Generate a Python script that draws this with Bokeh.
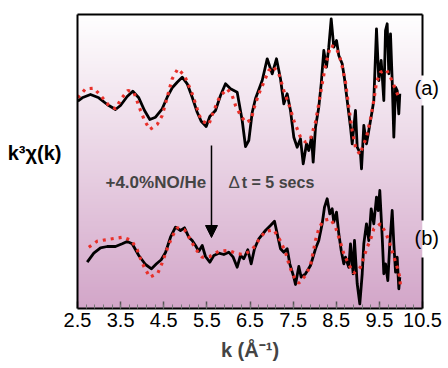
import numpy as np
from bokeh.plotting import figure
from bokeh.models import Range1d, LinearAxis, FixedTicker, Label, Arrow, NormalHead
from bokeh.embed import file_html
from bokeh.resources import INLINE

# ---- data, k in 1/Angstrom, k^3 chi(k) in arbitrary offset units ----
k_a_exp = [2.507, 2.609, 2.801, 2.994, 3.189, 3.381, 3.497, 3.652, 3.782, 3.921, 4.054, 4.177, 4.309, 4.464,
           4.580, 4.696, 4.812, 4.928, 5.044, 5.160, 5.276, 5.368, 5.484, 5.568, 5.700, 5.816, 5.932, 6.048,
           6.203, 6.319, 6.396, 6.472, 6.551, 6.628, 6.697, 6.783, 6.899, 7.015, 7.114, 7.207, 7.284, 7.362,
           7.439, 7.516, 7.594, 7.671, 7.734, 7.810, 7.863, 7.926, 7.965, 8.019, 8.095, 8.151, 8.211, 8.274,
           8.327, 8.383, 8.443, 8.506, 8.559, 8.638, 8.691, 8.754, 8.830, 8.870, 8.946, 8.986, 9.062, 9.086,
           9.139, 9.201, 9.255, 9.334, 9.371, 9.433, 9.487, 9.542, 9.603, 9.642, 9.681, 9.719, 9.758, 9.797,
           9.835, 9.875, 9.913, 9.951, 9.974]
chi_a_exp = [20.73, 21.07, 21.4, 21.07, 20.4, 19.9, 20.3, 21.2, 21.73, 21.07, 19.8, 18.9, 19.13, 19.97,
             21.13, 22.07, 22.63, 23.13, 22.47, 21.13, 19.63, 18.73, 18.2, 19.2, 19.8, 21.3, 22.47, 21.97,
             21.63, 18.8, 16.2, 16.8, 19.6, 21.0, 21.8, 22.8, 24.97, 23.47, 24.97, 22.97, 20.47, 21.47,
             19.8, 17.13, 16.13, 16.97, 14.47, 16.47, 15.8, 17.13, 14.63, 18.13, 20.13, 22.47, 25.8, 24.13,
             26.13, 28.97, 26.13, 26.8, 25.3, 24.47, 23.0, 20.8, 18.13, 16.47, 19.8, 16.13, 15.47, 13.97,
             18.3, 16.47, 17.8, 19.8, 20.8, 27.97, 22.8, 24.8, 20.8, 27.8, 28.47, 23.47, 27.47, 22.8,
             17.13, 22.13, 21.8, 19.47, 21.47]

k_a_fit = [2.507, 2.686, 2.878, 3.057, 3.226, 3.381, 3.513, 3.666, 3.806, 3.961, 4.054, 4.177, 4.348, 4.464,
           4.580, 4.696, 4.826, 4.981, 5.160, 5.276, 5.368, 5.545, 5.661, 5.800, 5.971, 6.087, 6.164, 6.263,
           6.396, 6.528, 6.588, 6.704, 6.820, 6.936, 7.038, 7.168, 7.284, 7.423, 7.516, 7.594, 7.671, 7.787,
           7.903, 8.019, 8.095, 8.174, 8.250, 8.367, 8.483, 8.559, 8.638, 8.714, 8.791, 8.870, 8.946, 9.046,
           9.125, 9.201, 9.294, 9.371, 9.433, 9.526, 9.665, 9.758, 9.835, 9.951]
chi_a_fit = [21.07, 21.97, 22.03, 21.2, 20.3, 19.97, 20.97, 21.8, 21.63, 19.8, 18.8, 17.9, 18.4, 19.3,
             21.13, 22.97, 23.97, 23.3, 21.47, 19.97, 18.8, 18.4, 19.8, 21.2, 21.97, 21.3, 20.3, 19.47,
             18.6, 18.87, 19.97, 21.47, 22.63, 23.8, 24.2, 23.47, 21.8, 20.13, 18.8, 17.97, 17.13, 16.63,
             16.97, 18.63, 20.47, 22.47, 24.3, 26.3, 26.13, 25.47, 24.2, 22.63, 20.13, 17.8, 16.13, 15.4,
             16.3, 17.13, 18.97, 20.8, 22.63, 23.63, 23.87, 23.13, 22.3, 21.13]

k_b_exp = [2.725, 2.878, 3.033, 3.189, 3.381, 3.537, 3.652, 3.768, 3.921, 4.077, 4.216, 4.332, 4.441, 4.541,
           4.657, 4.772, 4.888, 4.981, 5.081, 5.160, 5.236, 5.313, 5.392, 5.468, 5.568, 5.661, 5.777, 5.893,
           6.008, 6.110, 6.203, 6.280, 6.356, 6.449, 6.528, 6.604, 6.704, 6.859, 6.975, 7.068, 7.131, 7.207,
           7.284, 7.362, 7.423, 7.516, 7.555, 7.632, 7.687, 7.787, 7.903, 8.019, 8.095, 8.174, 8.227, 8.290,
           8.350, 8.406, 8.443, 8.506, 8.559, 8.615, 8.675, 8.714, 8.791, 8.830, 8.893, 8.923, 8.986, 9.046,
           9.102, 9.139, 9.201, 9.255, 9.310, 9.371, 9.433, 9.473, 9.510, 9.566, 9.603, 9.642, 9.696, 9.742,
           9.797, 9.835, 9.875, 9.913, 9.951, 9.974]
chi_b_exp = [4.63, 5.53, 6.07, 6.2, 6.2, 6.47, 6.7, 6.47, 5.3, 4.4, 3.97, 4.47, 4.87, 5.6,
             7.13, 8.13, 7.8, 8.07, 7.13, 6.8, 6.3, 5.73, 6.3, 5.2, 4.63, 5.3, 5.53, 5.4,
             5.63, 5.13, 4.13, 5.3, 4.97, 5.87, 4.47, 5.97, 6.97, 7.8, 8.3, 8.73, 7.47, 5.97,
             5.63, 5.97, 4.47, 3.13, 2.4, 4.2, 3.13, 3.47, 4.3, 5.97, 6.8, 8.47, 10.13, 10.97,
             9.47, 9.97, 8.63, 9.63, 7.47, 5.8, 4.47, 5.13, 4.13, 6.47, 3.47, 6.8, 2.47, 0.47,
             3.47, 6.47, 8.47, 6.8, 9.97, 8.47, 11.13, 9.8, 11.8, 7.13, 3.47, 4.47, 2.8, 6.47,
             9.8, 6.47, 3.63, 5.13, 1.97, 3.13]

k_b_fit = [2.762, 2.957, 3.149, 3.342, 3.550, 3.752, 3.884, 3.961, 4.054, 4.177, 4.362, 4.464, 4.580, 4.696,
           4.812, 4.981, 5.120, 5.236, 5.392, 5.568, 5.777, 6.008, 6.203, 6.356, 6.551, 6.704, 6.859, 7.052,
           7.191, 7.323, 7.423, 7.516, 7.632, 7.787, 7.903, 8.019, 8.095, 8.197, 8.367, 8.483, 8.583, 8.675,
           8.791, 8.907, 9.062, 9.139, 9.217, 9.294, 9.371, 9.526, 9.642, 9.719, 9.797, 9.851, 9.913, 9.974,
           9.990]
chi_b_fit = [6.13, 6.73, 6.87, 7.0, 7.13, 6.8, 5.87, 4.97, 4.07, 3.13, 3.53, 4.57, 5.97, 7.2,
             8.07, 7.87, 6.87, 5.97, 5.13, 5.2, 5.73, 5.8, 5.47, 5.4, 5.87, 6.87, 7.73, 7.87,
             6.87, 5.63, 4.13, 3.2, 2.53, 3.3, 4.3, 6.8, 7.97, 8.8, 8.97, 8.13, 6.8, 5.47,
             4.4, 3.53, 4.13, 5.13, 6.13, 6.87, 7.97, 8.47, 7.63, 6.8, 5.73, 4.97, 4.13, 3.13,
             2.13]

x_major_ticks = [2.5, 3.5, 4.5, 5.5, 6.5, 7.5, 8.5, 9.5, 10.5]
x_minor_ticks = [round(2.5 + 0.2 * i, 1) for i in range(41)]

# curve tags shown at the right border, and their vertical positions
tag_a, tag_a_y = "(a)", 22.05
tag_b, tag_b_y = "(b)", 7.05

FONT = "Liberation Sans"
Y_MAX = 29.4

p = figure(width=448, height=368, output_backend="svg", toolbar_location=None,
           x_range=Range1d(2.5, 10.5), y_range=Range1d(0, Y_MAX),
           x_axis_location=None, y_axis_location=None,
           min_border_left=77, min_border_right=26, min_border_top=14, min_border_bottom=60)
p.grid.visible = False
p.outline_line_color = None
p.background_fill_color = "white"
p.border_fill_color = "white"

# gradient background (white at top -> pink/mauve at bottom)
n = 200
img = np.empty((n, 1), dtype=np.uint32)
view = img.view(dtype=np.uint8).reshape((n, 1, 4))
top = np.array([255, 255, 255]); bot = np.array([211, 166, 201])
for i in range(n):
    t = i / (n - 1)
    c = bot + (top - bot) * t
    view[i, 0, 0] = int(c[0]); view[i, 0, 1] = int(c[1]); view[i, 0, 2] = int(c[2]); view[i, 0, 3] = 255
p.image_rgba(image=[img], x=2.5, y=0, dw=8, dh=Y_MAX)

# curves
RED = "#e8302a"
p.line(k_a_exp, chi_a_exp, line_color="black", line_width=2.8, line_join="round")
p.line(k_a_fit, chi_a_fit, line_color=RED, line_width=3.2, line_dash="3 5")
p.line(k_b_exp, chi_b_exp, line_color="black", line_width=2.8, line_join="round")
p.line(k_b_fit, chi_b_fit, line_color=RED, line_width=3.2, line_dash="3 5")

# axes
xb = LinearAxis(ticker=FixedTicker(ticks=x_major_ticks, minor_ticks=x_minor_ticks),
                axis_label="k (Å⁻¹)", axis_line_width=2, axis_line_color="black",
                major_tick_in=7, major_tick_out=0, minor_tick_in=4, minor_tick_out=0,
                major_tick_line_color="#555555", minor_tick_line_color="#777777",
                major_tick_line_width=1.5, minor_tick_line_width=1,
                major_label_text_font=FONT, major_label_text_font_size="20px",
                major_label_text_color="black", major_label_standoff=4,
                axis_label_text_font=FONT, axis_label_text_font_size="20px",
                axis_label_text_font_style="bold", axis_label_standoff=9)
p.add_layout(xb, "below")

YLAB = 15.6
yl = LinearAxis(ticker=FixedTicker(ticks=[YLAB]), major_label_overrides={YLAB: "k³χ(k)"},
                axis_line_width=2, axis_line_color="black",
                major_tick_line_color=None, minor_tick_line_color=None,
                major_label_text_font=FONT, major_label_text_font_size="20px",
                major_label_text_font_style="bold", major_label_text_color="black",
                major_label_standoff=10)
p.add_layout(yl, "left")

xt = LinearAxis(ticker=FixedTicker(ticks=[]), axis_line_width=2, axis_line_color="black",
                major_tick_line_color=None, minor_tick_line_color=None,
                major_label_text_font_size="0px")
p.add_layout(xt, "above")

# right border, interrupted behind the (a)/(b) tags (dash pattern drawn bottom -> top)
yr = LinearAxis(ticker=FixedTicker(ticks=[tag_a_y, tag_b_y]),
                major_label_overrides={tag_a_y: tag_a, tag_b_y: tag_b},
                axis_line_width=2, axis_line_color="black", axis_line_cap="butt",
                axis_line_dash="51 37 115 30 80 40",
                major_tick_line_color=None, minor_tick_line_color=None,
                major_label_text_font=FONT, major_label_text_font_size="20px",
                major_label_text_color="black", major_label_standoff=-14)
p.add_layout(yr, "right")

# annotations
p.add_layout(Label(x=3.149, y=12.6, text="+4.0%NO/He", text_baseline="middle",
                   text_font=FONT, text_font_size="17px", text_font_style="bold"))
p.add_layout(Label(x=6.0, y=12.6, text="Δ", text_baseline="middle",
                   text_font=FONT, text_font_size="17px"))
p.add_layout(Label(x=6.31, y=12.6, text="t = 5 secs", text_baseline="middle",
                   text_font=FONT, text_font_size="16px", text_font_style="bold"))
p.add_layout(Arrow(end=NormalHead(size=12, fill_color="black", line_color="black"),
                   x_start=5.607, y_start=16.3, x_end=5.607, y_end=7.1,
                   line_width=1.5, line_color="black"))

open("out.html", "w").write(file_html(p, INLINE))
